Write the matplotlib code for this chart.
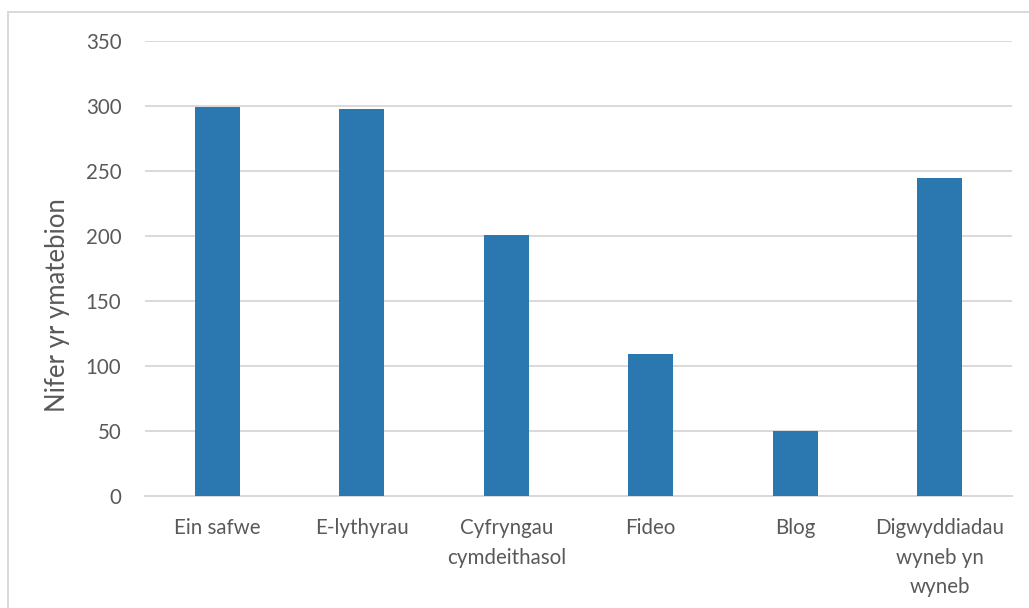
import matplotlib.pyplot as plt
from matplotlib.patches import Rectangle

categories = ["Ein safwe", "E-lythyrau", "Cyfryngau\ncymdeithasol", "Fideo", "Blog",
              "Digwyddiadau\nwyneb yn\nwyneb"]
values = [299, 298, 201, 109, 50, 245]
yticks = [0, 50, 100, 150, 200, 250, 300, 350]

BAR_COLOR = "#2b78b0"
TEXT_COLOR = "#595959"
GRID_COLOR = "#d9d9d9"


def main():
    plt.rcParams["font.family"] = ["Lato", "DejaVu Sans"]
    fig = plt.figure(figsize=(10.29, 6.08), dpi=100)
    ax = fig.add_axes([145 / 1029, 1 - 496 / 608, (1012 - 145) / 1029, (496 - 41) / 608])

    x = list(range(len(categories)))
    ax.bar(x, values, width=0.31, color=BAR_COLOR, zorder=3)

    ax.set_xlim(-0.5, len(categories) - 0.5)
    ax.set_ylim(0, 350)
    ax.set_yticks(yticks)
    ax.set_xticks(x)
    ax.set_xticklabels(categories, linespacing=1.6)

    ax.grid(axis="y", color=GRID_COLOR, linewidth=1.4, zorder=0)
    for side in ["top", "right", "left"]:
        ax.spines[side].set_visible(False)
    ax.spines["bottom"].set_color(GRID_COLOR)
    ax.spines["bottom"].set_linewidth(1.4)

    ax.tick_params(axis="both", length=0, colors=TEXT_COLOR, labelsize=14.8)
    ax.tick_params(axis="y", pad=17)
    ax.tick_params(axis="x", pad=16)

    fig.text(57 / 1029, 1 - 305 / 608, "Nifer yr ymatebion", rotation=90,
             ha="center", va="center", fontsize=18.5, color=TEXT_COLOR)

    # chart frame, mostly cut off at right and bottom
    fig.patches.append(Rectangle((8 / 1029, -0.1), 1.2, 1 - 12 / 608 + 0.1,
                                 transform=fig.transFigure, fill=False,
                                 edgecolor=GRID_COLOR, linewidth=1.4))

    fig.savefig("out.png", dpi=100)


if __name__ == "__main__":
    main()
